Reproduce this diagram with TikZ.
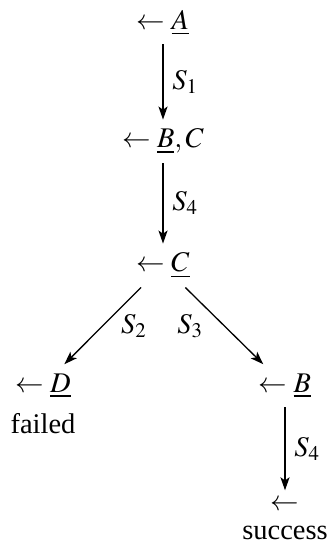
\documentclass[tikz,border=0pt]{standalone}
\usepackage{mathptmx}
\usepackage[no-math]{fontspec}
\setmainfont{Liberation Serif}
\usetikzlibrary{arrows.meta,positioning}

\begin{document}
\begin{tikzpicture}[x=0.3846pt, y=-0.3846pt, line width=0.5pt,
    >={Stealth[length=5pt,width=3.5pt,inset=1.2pt]},
    every node/.style={font=\fontsize{10.95}{13.6}\selectfont},
    goal/.style={anchor=base}]
    \useasboundingbox (0,0) rectangle (326,552);
    % goals
    \node[goal] (a) at (163,29.5) {$\leftarrow \underline{A}$};
    \node[goal] (bc) at (163,148) {$\leftarrow \underline{B}, C$};
    \node[goal] (c) at (163,272) {$\leftarrow \underline{C}$};
    \node[goal] (d) at (43,392) {$\leftarrow \underline{D}$};
    \node[goal] (b) at (285,392) {$\leftarrow \underline{B}$};
    \node[goal] (done) at (285,510) {$\leftarrow$};
    \node[below=-1pt of d] (failed) {failed};
    \node[below=-1pt of done] (success) {success};
    % resolution steps
    \draw[->] (a) -- node[right=0pt] {$S_1$} (bc);
    \draw[->] (bc) -- node[right=0pt] {$S_4$} (c);
    \draw[->] (c) -- node[right=3.5pt] {$S_2$} (d);
    \draw[->] (c) -- node[left=4.5pt] {$S_3$} (b);
    \draw[->] (b) -- node[right=0pt] {$S_4$} (done);
\end{tikzpicture}
\end{document}
